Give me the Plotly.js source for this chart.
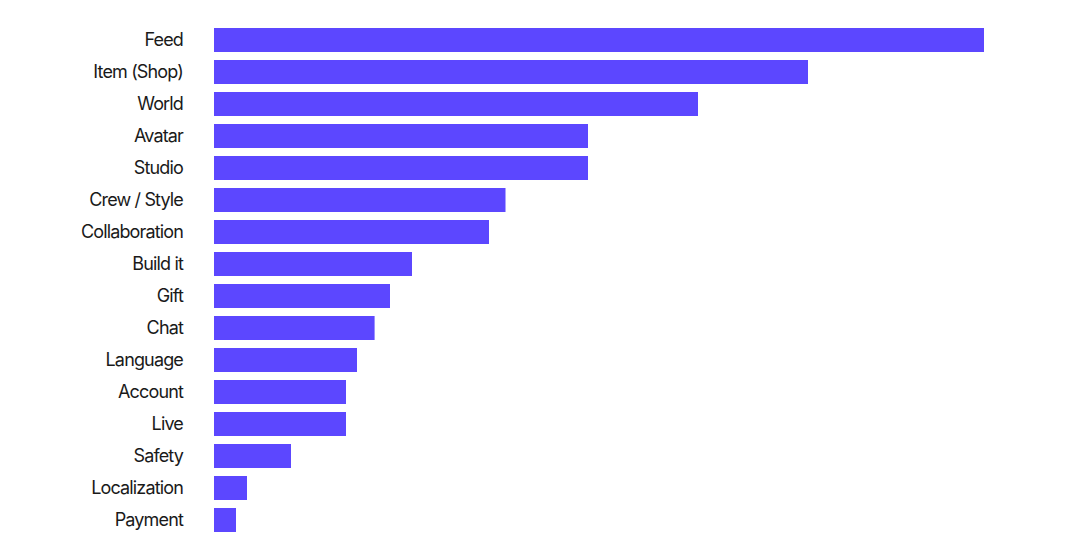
<!DOCTYPE html>
<html>
<head>
<meta charset="utf-8">
<script src="https://cdn.plot.ly/plotly-3.0.1.min.js"></script>
<style>
html,body{margin:0;padding:0;background:#fff;}
#chart{width:1080px;height:560px;}
#chart .ytick text{letter-spacing:-0.85px;}
</style>
</head>
<body>
<div id="chart"></div>
<script>
const categories = ["Feed","Item (Shop)","World","Avatar","Studio","Crew / Style","Collaboration","Build it","Gift","Chat","Language","Account","Live","Safety","Localization","Payment"];
const values = [70, 54, 44, 34, 34, 26.5, 25, 18, 16, 14.6, 13, 12, 12, 7, 3, 2];

const trace = {
  type: 'bar',
  orientation: 'h',
  y: categories,
  x: values,
  marker: {color: '#5c47ff'},
  hoverinfo: 'none'
};

const layout = {
  width: 1080,
  height: 560,
  margin: {l: 214, r: 96, t: 24, b: 24},
  paper_bgcolor: '#ffffff',
  plot_bgcolor: '#ffffff',
  bargap: 0.25,
  showlegend: false,
  font: {family: 'Inter, sans-serif', color: '#1a1a1a', size: 18},
  xaxis: {range: [0, 70], visible: false, showgrid: false, zeroline: false, fixedrange: true},
  yaxis: {
    autorange: 'reversed',
    showgrid: false,
    zeroline: false,
    showline: false,
    ticks: '',
    ticklabelstandoff: 30,
    tickfont: {family: 'Inter, sans-serif', size: 18, color: '#1a1a1a'},
    fixedrange: true
  }
};

Plotly.newPlot('chart', [trace], layout, {displayModeBar: false, staticPlot: true});
</script>
</body>
</html>
